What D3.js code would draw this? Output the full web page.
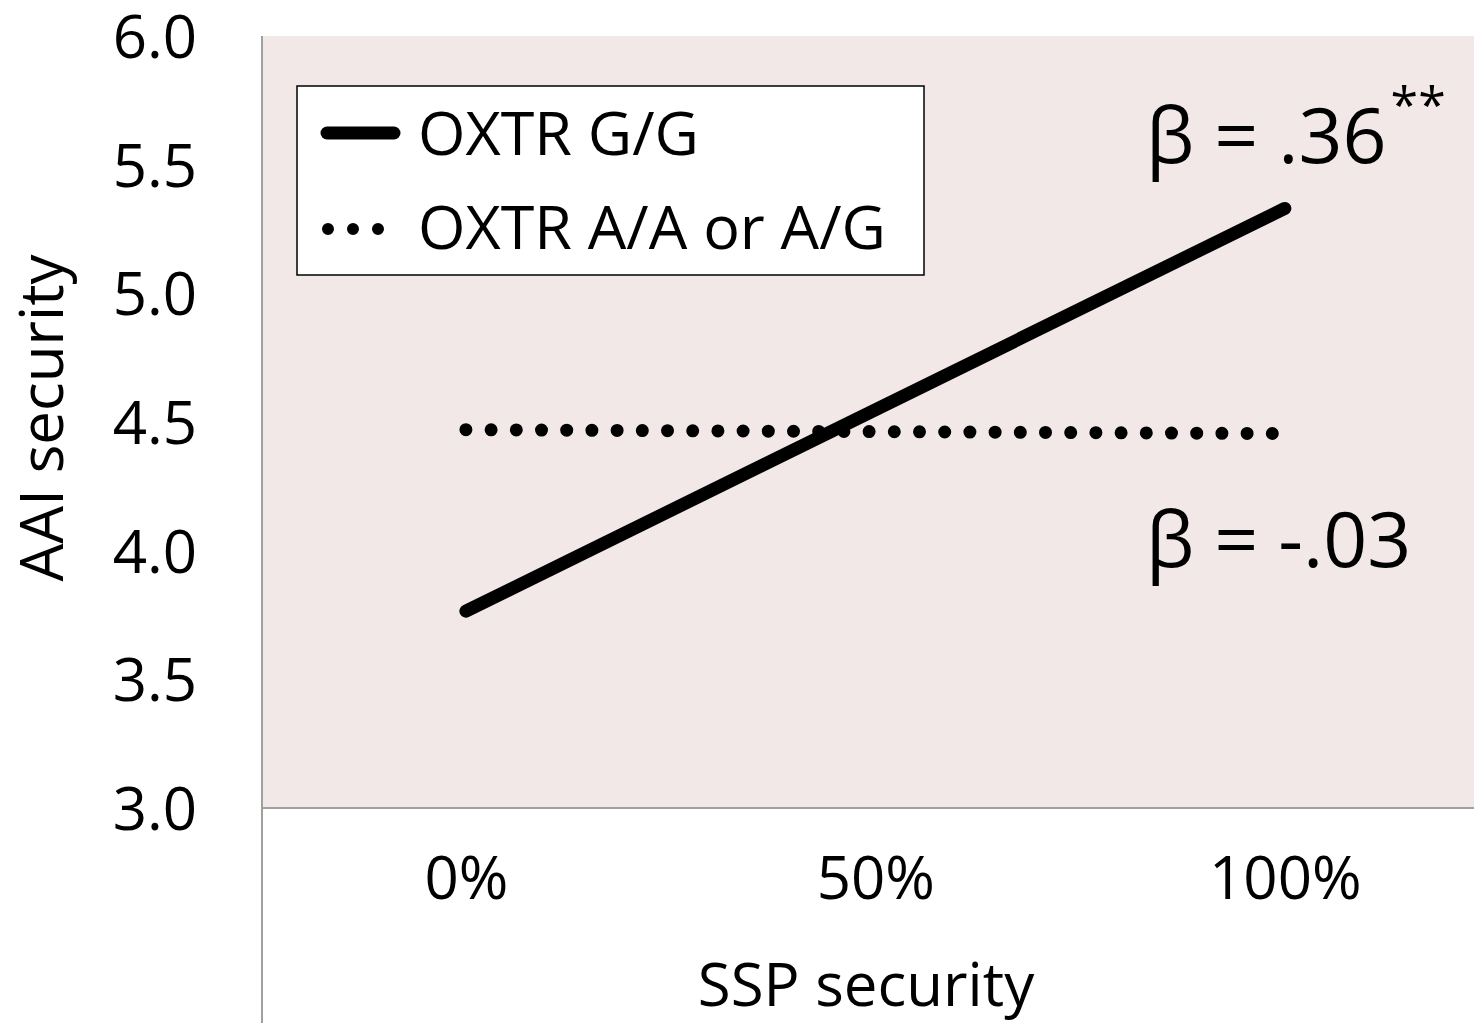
<!DOCTYPE html>
<html><head><meta charset="utf-8">
<script src="https://cdn.jsdelivr.net/npm/d3@7"></script>
<style>body{margin:0;background:#fff}svg{display:block}text{font-family:"Open Sans",sans-serif;fill:#000}</style>
</head><body><svg id="c" width="1474" height="1023"></svg>
<script>
const xTicks = [0, 50, 100];
const xTickLabels = ["0%", "50%", "100%"];
const yTicks = [3.0, 3.5, 4.0, 4.5, 5.0, 5.5, 6.0];
const seriesNames = ["OXTR G/G", "OXTR A/A or A/G"];
const ggValues = [[0, 3.765], [100, 5.33]];
const aaValues = [[0, 4.47], [100, 4.455]];
const betaLabels = ["β = .36", "β = -.03"];
const betaStars = ["**", ""];
const betaY = [5.6, 4.03];

const svg = d3.select("#c");
const L = 262, R = 1474, T = 36, B = 808;
const x = d3.scaleLinear().domain([-24.9, 123.1]).range([L, R]);
const y = d3.scaleLinear().domain([3, 6]).range([B, T]);

svg.append("rect").attr("x", L).attr("y", T).attr("width", R - L).attr("height", B - T).attr("fill", "#f2e8e8");

svg.append("line").attr("x1", L).attr("x2", L).attr("y1", T).attr("y2", 1023).attr("stroke", "#a0a0a0").attr("stroke-width", 2);
svg.append("line").attr("x1", L).attr("x2", R).attr("y1", B).attr("y2", B).attr("stroke", "#a0a0a0").attr("stroke-width", 2);

const yAxis = d3.axisLeft(y).tickValues(yTicks).tickFormat(d3.format(".1f")).tickSize(0).tickPadding(0);
const gy = svg.append("g").attr("transform", "translate(197,0)").call(yAxis);
gy.select(".domain").remove();
gy.selectAll("text").attr("font-size", 60).attr("font-family", "Open Sans").attr("fill", "#000").attr("dy", "0.36em").attr("text-anchor", "end");

const xAxis = d3.axisBottom(x).tickValues(xTicks).tickFormat((d, i) => xTickLabels[i]).tickSize(0).tickPadding(0);
const gx = svg.append("g").attr("transform", "translate(0,877)").call(xAxis);
gx.select(".domain").remove();
gx.selectAll("text").attr("font-size", 60).attr("font-family", "Open Sans").attr("fill", "#000").attr("dy", "0.36em");

svg.append("text").attr("x", 866).attr("y", 1006).attr("text-anchor", "middle").attr("font-size", 60).text("SSP security");
svg.append("text").attr("transform", "translate(63,418) rotate(-90)").attr("text-anchor", "middle").attr("font-size", 60).text("AAI security");

const line = d3.line().x(d => x(d[0])).y(d => y(d[1]));
svg.append("path").attr("d", line(aaValues)).attr("fill", "none").attr("stroke", "#000").attr("stroke-width", 13)
  .attr("stroke-linecap", "round").attr("stroke-dasharray", "0,25.2");
svg.append("path").attr("d", line(ggValues)).attr("fill", "none").attr("stroke", "#000").attr("stroke-width", 13)
  .attr("stroke-linecap", "round");

betaLabels.forEach((t, i) => {
  const tx = svg.append("text").attr("x", 1146).attr("y", y(betaY[i]) + 24).attr("font-size", 77);
  tx.append("tspan").text(t);
  if (betaStars[i]) tx.append("tspan").attr("font-size", 50).attr("dx", 4).attr("dy", -40).text(betaStars[i]);
});

svg.append("rect").attr("x", 297).attr("y", 86).attr("width", 627).attr("height", 189).attr("fill", "#fff").attr("stroke", "#000").attr("stroke-width", 1.5);
svg.append("line").attr("x1", 327).attr("x2", 394).attr("y1", 133).attr("y2", 133).attr("stroke", "#000").attr("stroke-width", 13).attr("stroke-linecap", "round");
svg.append("line").attr("x1", 328).attr("x2", 379).attr("y1", 229).attr("y2", 229).attr("stroke", "#000").attr("stroke-width", 12).attr("stroke-linecap", "round").attr("stroke-dasharray", "0,25");
svg.append("text").attr("x", 418).attr("y", 155).attr("font-size", 61).text(seriesNames[0]);
svg.append("text").attr("x", 418).attr("y", 249).attr("font-size", 61).text(seriesNames[1]);
</script></body></html>
